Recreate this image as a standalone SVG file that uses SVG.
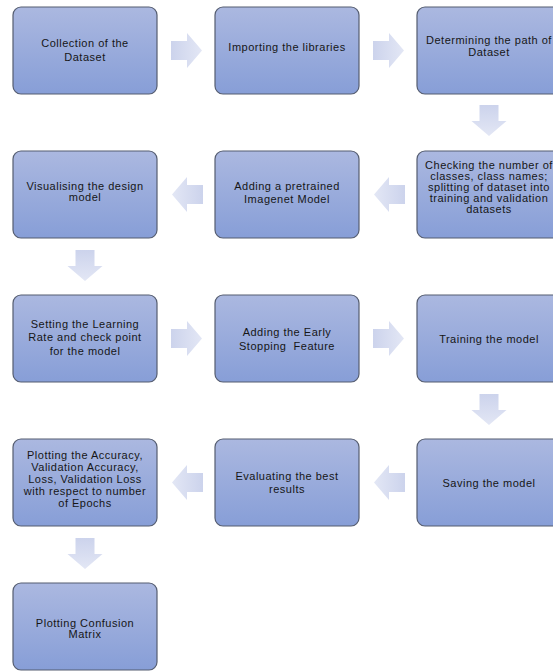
<svg xmlns="http://www.w3.org/2000/svg" xmlns:xlink="http://www.w3.org/1999/xlink" width="553" height="671" viewBox="0 0 553 671">
<style>
  .box { fill: url(#boxGrad); stroke: #555d70; stroke-width: 1.2; }
  .lbl { font-family: "Liberation Sans", Arial, sans-serif; font-size: 11px; letter-spacing: 0.5px; fill: #161616; text-anchor: middle; white-space: pre; }
  .arr { fill: url(#arrGrad); }
</style>
<defs>
  <linearGradient id="boxGrad" x1="0" y1="0" x2="0" y2="1">
    <stop offset="0" stop-color="#abb8e0"/>
    <stop offset="1" stop-color="#879ed7"/>
  </linearGradient>
  <linearGradient id="arrGrad" x1="0" y1="0" x2="1" y2="0">
    <stop offset="0" stop-color="#ccd3ec"/>
    <stop offset="1" stop-color="#e3e7f5"/>
  </linearGradient>
  <path id="arrow" d="M0,-9.5 H16 V-17.5 L31,0 L16,17.5 V9.5 H0 Z"/>
</defs>
<rect width="553" height="671" fill="#ffffff"/>

<g id="connectors">
  <use xlink:href="#arrow" class="arr" transform="translate(171,50.5)"/>
  <use xlink:href="#arrow" class="arr" transform="translate(373,50.5)"/>
  <use xlink:href="#arrow" class="arr" transform="translate(489,105) rotate(90)"/>
  <use xlink:href="#arrow" class="arr" transform="translate(405,194.5) rotate(180)"/>
  <use xlink:href="#arrow" class="arr" transform="translate(203,194.5) rotate(180)"/>
  <use xlink:href="#arrow" class="arr" transform="translate(85,250) rotate(90)"/>
  <use xlink:href="#arrow" class="arr" transform="translate(171,338.5)"/>
  <use xlink:href="#arrow" class="arr" transform="translate(373,338.5)"/>
  <use xlink:href="#arrow" class="arr" transform="translate(489,394) rotate(90)"/>
  <use xlink:href="#arrow" class="arr" transform="translate(405,482.5) rotate(180)"/>
  <use xlink:href="#arrow" class="arr" transform="translate(203,482.5) rotate(180)"/>
  <use xlink:href="#arrow" class="arr" transform="translate(85,538) rotate(90)"/>
</g>

<g id="n1">
  <rect class="box" x="13" y="7" width="144" height="87" rx="8"/>
  <text class="lbl" x="85" y="46.5">Collection of the</text>
  <text class="lbl" x="85" y="60.5">Dataset</text>
</g>
<g id="n2">
  <rect class="box" x="215" y="7" width="144" height="87" rx="8"/>
  <text class="lbl" x="287" y="51">Importing the libraries</text>
</g>
<g id="n3">
  <rect class="box" x="417" y="7" width="144" height="87" rx="8"/>
  <text class="lbl" x="489" y="44">Determining the path of</text>
  <text class="lbl" x="489" y="56">Dataset</text>
</g>
<g id="n4">
  <rect class="box" x="417" y="151" width="144" height="87" rx="8"/>
  <text class="lbl" x="489" y="168.5">Checking the number of</text>
  <text class="lbl" x="489" y="179.5">classes, class names;</text>
  <text class="lbl" x="489" y="190.5">splitting of dataset into</text>
  <text class="lbl" x="489" y="201.5">training and validation</text>
  <text class="lbl" x="489" y="212.5">datasets</text>
</g>
<g id="n5">
  <rect class="box" x="215" y="151" width="144" height="87" rx="8"/>
  <text class="lbl" x="287" y="190">Adding a pretrained</text>
  <text class="lbl" x="287" y="203">Imagenet Model</text>
</g>
<g id="n6">
  <rect class="box" x="13" y="151" width="144" height="87" rx="8"/>
  <text class="lbl" x="85" y="190">Visualising the design</text>
  <text class="lbl" x="85" y="201">model</text>
</g>
<g id="n7">
  <rect class="box" x="13" y="295" width="144" height="87" rx="8"/>
  <text class="lbl" x="85" y="327.5">Setting the Learning</text>
  <text class="lbl" x="85" y="341">Rate and check point</text>
  <text class="lbl" x="85" y="354.5">for the model</text>
</g>
<g id="n8">
  <rect class="box" x="215" y="295" width="144" height="87" rx="8"/>
  <text class="lbl" x="287" y="336">Adding the Early</text>
  <text class="lbl" x="287" y="350">Stopping  Feature</text>
</g>
<g id="n9">
  <rect class="box" x="417" y="295" width="144" height="87" rx="8"/>
  <text class="lbl" x="489" y="342.5">Training the model</text>
</g>
<g id="n10">
  <rect class="box" x="417" y="439" width="144" height="87" rx="8"/>
  <text class="lbl" x="489" y="486.5">Saving the model</text>
</g>
<g id="n11">
  <rect class="box" x="215" y="439" width="144" height="87" rx="8"/>
  <text class="lbl" x="287" y="480">Evaluating the best</text>
  <text class="lbl" x="287" y="492.5">results</text>
</g>
<g id="n12">
  <rect class="box" x="13" y="439" width="144" height="87" rx="8"/>
  <text class="lbl" x="85" y="458.5">Plotting the Accuracy,</text>
  <text class="lbl" x="85" y="470.5">Validation Accuracy,</text>
  <text class="lbl" x="85" y="482.5">Loss, Validation Loss</text>
  <text class="lbl" x="85" y="494.5">with respect to number</text>
  <text class="lbl" x="85" y="506.5">of Epochs</text>
</g>
<g id="n13">
  <rect class="box" x="13" y="583" width="144" height="87" rx="8"/>
  <text class="lbl" x="85" y="626.5">Plotting Confusion</text>
  <text class="lbl" x="85" y="638">Matrix</text>
</g>
</svg>
